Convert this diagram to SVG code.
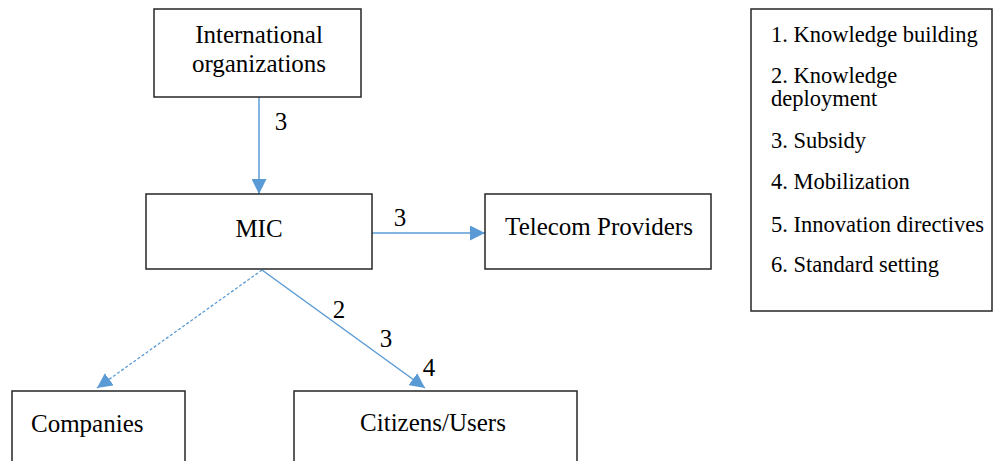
<svg xmlns="http://www.w3.org/2000/svg" width="994" height="461" viewBox="0 0 994 461">
<style>
.box{fill:#fff;stroke:#262626;stroke-width:1.5}
.t{font-family:"Liberation Serif","Times New Roman",serif;font-size:25px;fill:#000}
.c{text-anchor:middle}
.lg{font-family:"Liberation Serif","Times New Roman",serif;font-size:22.5px;fill:#000}
.ln{stroke:#5B9BD5;stroke-width:1.5;fill:none}
.dl{stroke:#5B9BD5;stroke-width:1.3;fill:none;stroke-dasharray:3 2}
</style>
<defs>
<marker id="ah" viewBox="0 0 10 10" refX="10" refY="5" markerWidth="15" markerHeight="15" markerUnits="userSpaceOnUse" orient="auto">
<path d="M0,0 L10,5 L0,10 z" fill="#5B9BD5"/>
</marker>
</defs>
<rect width="994" height="461" fill="#fff"/>
<g id="connectors">
<line class="ln" x1="259" y1="97" x2="259" y2="194" marker-end="url(#ah)"/>
<line class="ln" x1="372" y1="233" x2="485" y2="233" marker-end="url(#ah)"/>
<line class="ln" x1="262" y1="270" x2="425" y2="388" marker-end="url(#ah)"/>
<line class="dl" x1="262" y1="270" x2="97" y2="388" marker-end="url(#ah)"/>
<text class="t c" x="281" y="130">3</text>
<text class="t c" x="400" y="226">3</text>
<text class="t c" x="339" y="318">2</text>
<text class="t c" x="386" y="347">3</text>
<text class="t c" x="429" y="376">4</text>
</g>
<g id="intl">
<rect class="box" x="154" y="9" width="207" height="88"/>
<text class="t c" x="259" y="43">International</text>
<text class="t c" x="259" y="72">organizations</text>
</g>
<g id="mic">
<rect class="box" x="146" y="194" width="226" height="75"/>
<text class="t c" x="259" y="237">MIC</text>
</g>
<g id="telecom">
<rect class="box" x="485" y="194" width="226" height="75"/>
<text class="t c" x="599" y="235">Telecom Providers</text>
</g>
<g id="companies">
<rect class="box" x="12" y="391" width="173" height="80"/>
<text class="t" x="31" y="432">Companies</text>
</g>
<g id="citizens">
<rect class="box" x="294" y="391" width="283" height="80"/>
<text class="t c" x="433" y="431">Citizens/Users</text>
</g>
<g id="legend">
<rect class="box" x="751" y="9" width="241" height="302"/>
<text class="lg" x="771" y="42">1. Knowledge building</text>
<text class="lg" x="771" y="83">2. Knowledge</text>
<text class="lg" x="771" y="106">deployment</text>
<text class="lg" x="771" y="148">3. Subsidy</text>
<text class="lg" x="771" y="189">4. Mobilization</text>
<text class="lg" x="771" y="232">5. Innovation directives</text>
<text class="lg" x="771" y="272">6. Standard setting</text>
</g>
</svg>
